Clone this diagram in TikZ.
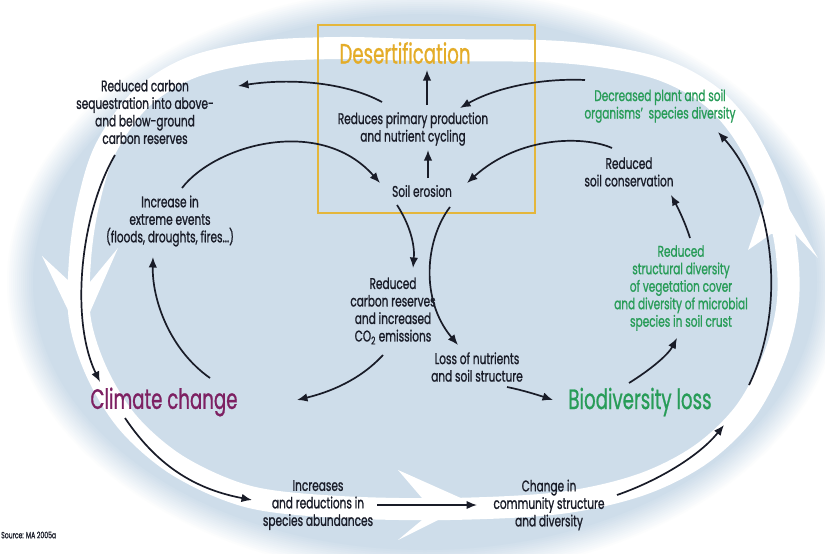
\documentclass[tikz,border=0pt]{standalone}
\usepackage{fontspec}
\setmainfont{Poppins}[FakeStretch=0.68, FakeBold=1.0]
\newfontfamily\bigfont{Poppins}[FakeStretch=0.65, FakeBold=0.8]
\usetikzlibrary{arrows.meta,calc}
\definecolor{bg}{RGB}{206,221,234}
\definecolor{ink}{RGB}{25,28,40}
\definecolor{gold}{RGB}{228,182,60}
\definecolor{desc}{RGB}{228,172,40}
\definecolor{purp}{RGB}{125,32,98}
\definecolor{grn}{RGB}{40,156,88}
\begin{document}
\begin{tikzpicture}[x=1pt,y=-1pt,
  txt/.style={font=\fontsize{15.5}{17.5}\selectfont, text=ink, align=center, inner sep=0pt},
  gtxt/.style={txt, text=grn},
  big/.style={font=\bigfont\fontsize{28}{30}\selectfont, inner sep=0pt},
  arr/.style={draw=ink, line width=1.7pt, -{Latex[length=10.5pt,width=8.5pt]}},
  band/.style={draw=white, line width=22pt},
  chev/.style={fill=white},
]
\useasboundingbox (0,0) rectangle (825,554);
\fill[white] (0,0) rectangle (825,554);
% soft-edged background ellipse
\foreach \i [evaluate=\i as \p using int(\i*100/14)] in {0,...,14} {
  \fill[bg!\p!white] (425,282) ellipse [x radius={420-2.0*\i}, y radius={296-2.0*\i}];
}
% white circular band
\draw[band] plot[smooth cycle, tension=0.55] coordinates {
 (420,50) (560,52) (650,66) (705,92) (740,128) (768,180) (785,240) (788,300)
 (775,355) (745,412) (700,455) (640,485) (560,503) (450,509) (340,507)
 (250,497) (180,467) (130,425) (98,375) (80,320) (80,260) (88,205)
 (105,150) (140,100) (190,68) (260,52) (340,48)};
% chevron heads of the band
\fill[chev] (80,335) -- (118,248) -- (90,282) -- (70,282) -- (42,256) -- cycle;
\fill[chev] (472,503) -- (398,470) -- (422,498) -- (422,520) -- (398,540) -- cycle;
\fill[chev] (772,180) -- (818,258) -- (793,232) -- (771,234) -- (748,250) -- cycle;

% Desertification box
\node[draw=gold, line width=2pt, minimum width=217pt, minimum height=188pt, inner sep=0pt] (box) at (426.5,119) {};
\node[big, text=desc] (des) at (405,53) {Desertification};

% texts
\node[txt] (rpp) at (413,129) {Reduces primary production\\and nutrient cycling};
\node[txt] (se) at (422,191) {Soil erosion};
\node[txt] (rcs) at (145,112) {Reduced carbon\\sequestration into above-\\and below-ground\\carbon reserves};
\node[txt] (iee) at (170,221) {Increase in\\extreme events\\(floods, droughts, fires...)};
\node[txt] (rcr) at (393,311) {Reduced\\carbon reserves\\and increased\\CO\textsubscript{2} emissions};
\node[txt] (lns) at (477,367) {Loss of nutrients\\and soil structure};
\node[big, text=purp] (cc) at (164,402) {Climate change};
\node[big, text=grn] (bl) at (640,402) {Biodiversity loss};
\node[txt] (isa) at (318,505) {Increases\\and reductions in\\species abundances};
\node[txt] (ccs) at (549,505) {Change in\\community structure\\and diversity};
\node[gtxt] (dps) at (660,106) {Decreased plant and soil\\organisms’\ \ species diversity};
\node[txt] (rsc) at (629,172) {Reduced\\soil conservation};
\node[gtxt] (rsd) at (681,288) {Reduced\\structural diversity\\of vegetation cover\\and diversity of microbial\\species in soil crust};
\node[font=\fontsize{9}{10}\selectfont, text=ink, anchor=west, inner sep=0pt] (src) at (1,535) {Source: MA 2005a};

% connectors
\draw[arr] ($(rpp)+(14,-24)$) -- ($(des)+(22,17)$);
\draw[arr] ($(se)+(6,-13)$) -- ($(rpp)+(15,21)$);
\draw[arr] ($(rpp)+(-31,-27)$) .. controls (345,82) and (290,78) .. ($(rcs)+(93,-26)$);
\draw[arr] ($(dps)+(-75,-26)$) .. controls (540,78) and (495,88) .. ($(rpp)+(47,-21)$);
\draw[arr] ($(rsc)+(-17,-24)$) .. controls (585,136) and (520,135) .. ($(se)+(45,-8)$);
\draw[arr] ($(iee)+(12,-33)$) .. controls (215,145) and (320,115) .. ($(se)+(-42,-8)$);
\draw[arr] ($(se)+(-25,14)$) .. controls (410,225) and (415,245) .. ($(rcr)+(20,-43)$);
\draw[arr] ($(se)+(28,16)$) .. controls (425,240) and (420,300) .. ($(lns)+(-19,-22)$);
\draw[arr] ($(rcr)+(-10,44)$) .. controls (360,380) and (330,392) .. ($(cc)+(133,-2)$);
\draw[arr] ($(lns)+(30,20)$) .. controls (522,390) and (538,395) .. ($(bl)+(-87,-2)$);
\draw[arr] ($(bl)+(-11,-19)$) .. controls (650,370) and (668,355) .. ($(rsd)+(-4,50)$);
\draw[arr] ($(rsd)+(9,-50)$) .. controls (685,222) and (678,208) .. ($(rsc)+(42,23)$);
\draw[arr] ($(rcs)+(-30,43)$) .. controls (80,215) and (70,320) .. ($(cc)+(-64,-20)$);
\draw[arr] ($(cc)+(46,-24)$) .. controls (170,350) and (152,300) .. ($(iee)+(-17,36)$);
\draw[arr] ($(cc)+(-39,16)$) .. controls (160,470) and (200,490) .. ($(isa)+(-66,-5)$);
\draw[arr] ($(isa)+(59,0)$) -- ($(ccs)+(-72,0)$);
\draw[arr] ($(ccs)+(68,-10)$) .. controls (660,480) and (700,455) .. ($(bl)+(84,23)$);
\draw[arr] ($(bl)+(109,-17)$) .. controls (790,300) and (770,190) .. ($(dps)+(58,26)$);
\end{tikzpicture}
\end{document}
